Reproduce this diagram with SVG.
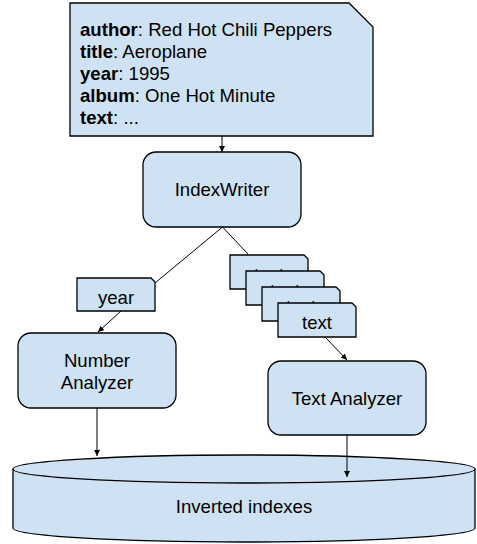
<svg xmlns="http://www.w3.org/2000/svg" width="477" height="544" viewBox="0 0 477 544">
<style>
.s{fill:#cfe2f3;stroke:#000;stroke-width:1.3}
.t{font-family:"Liberation Sans",Arial,sans-serif;font-size:18.6px;fill:#000}
.m{text-anchor:middle}
.b{font-weight:bold}
.c{fill:none;stroke:#000;stroke-width:1}
</style>
<defs>
<marker id="a" viewBox="0 0 10 10" refX="10" refY="5" markerWidth="6" markerHeight="6" markerUnits="userSpaceOnUse" orient="auto">
<path d="M0,0L10,5L0,10z" fill="#000"/>
</marker>
</defs>
<rect width="477" height="544" fill="#fff"/>
<g id="doc">
<path class="s" d="M70,3H349L373,27V136H70Z"/>
<text class="t" x="80" y="36"><tspan class="b">author</tspan>: Red Hot Chili Peppers</text>
<text class="t" x="80" y="58"><tspan class="b">title</tspan>: Aeroplane</text>
<text class="t" x="80" y="80"><tspan class="b">year</tspan>: 1995</text>
<text class="t" x="80" y="102"><tspan class="b">album</tspan>: One Hot Minute</text>
<text class="t" x="80" y="124"><tspan class="b">text</tspan>: ...</text>
</g>
<g id="indexwriter">
<rect class="s" x="143" y="152" width="158" height="75" rx="13"/>
<text class="t m" x="222" y="196">IndexWriter</text>
</g>
<g id="year">
<path class="s" d="M77,278H151L155,282V311H77Z"/>
<text class="t m" x="116" y="304">year</text>
</g>
<g id="text1">
<path class="s" d="M230,255H304L308,259V289H230Z"/>
<text class="t m" x="269" y="281">text</text>
</g>
<g id="text2">
<path class="s" d="M246,271H320L324,275V305H246Z"/>
<text class="t m" x="285" y="297">text</text>
</g>
<g id="text3">
<path class="s" d="M262,287H336L340,291V321H262Z"/>
<text class="t m" x="301" y="313">text</text>
</g>
<g id="text4">
<path class="s" d="M278,303H352L356,307V337H278Z"/>
<text class="t m" x="317" y="329">text</text>
</g>
<g id="number-analyzer">
<rect class="s" x="18" y="333" width="158" height="75" rx="13"/>
<text class="t m" x="97" y="367">Number</text>
<text class="t m" x="97" y="389">Analyzer</text>
</g>
<g id="text-analyzer">
<rect class="s" x="268" y="361" width="158" height="74" rx="13"/>
<text class="t m" x="347" y="405">Text Analyzer</text>
</g>
<g id="inverted-indexes">
<path class="s" d="M13,469V528A231,14 0 0 0 475,528V469"/>
<ellipse class="s" cx="244" cy="469" rx="231" ry="14"/>
<text class="t m" x="244" y="513">Inverted indexes</text>
</g>
<g id="connectors">
<path class="c" d="M222,136V152" marker-end="url(#a)"/>
<path class="c" d="M222.5,227L155,283"/>
<path class="c" d="M222.5,227L248,254"/>
<path class="c" d="M121,311L98,332" marker-end="url(#a)"/>
<path class="c" d="M325,337L347,360" marker-end="url(#a)"/>
<path class="c" d="M97,408V456" marker-end="url(#a)"/>
<path class="c" d="M347,435V477" marker-end="url(#a)"/>
</g>
</svg>
